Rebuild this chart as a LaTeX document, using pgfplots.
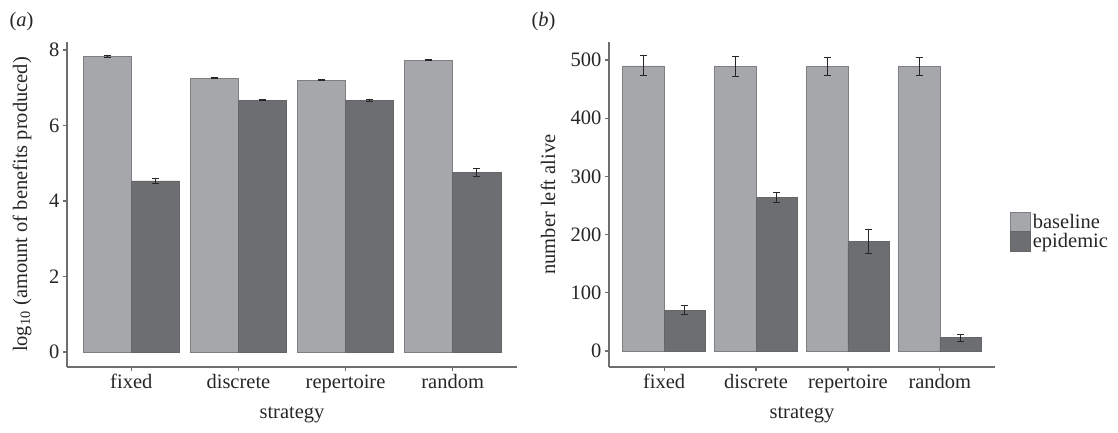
\documentclass[border=0pt]{standalone}
\usepackage{fontspec}
\setmainfont{Liberation Serif}
\usepackage{pgfplots}
\pgfplotsset{compat=1.18}
\definecolor{base}{HTML}{A6A7AB}
\definecolor{epi}{HTML}{6D6E71}
\definecolor{axgray}{HTML}{6E6E6E}
\definecolor{edge}{HTML}{7E7F82}
\definecolor{txt}{HTML}{262626}
\newcommand{\bigf}{\fontsize{20.5}{22}\selectfont}
\pgfplotsset{mystyle/.style={
  scale only axis, axis lines=left,
  axis line style={-, axgray, line width=1.5pt},
  tick align=outside, major tick length=4pt,
  tick style={axgray, line width=1.2pt},
  /pgf/number format/assume math mode=true,
  ybar, bar width=0.45,
  xtick={0,1,2,3}, xticklabels={fixed,discrete,repertoire,random},
  xmin=-0.6, xmax=3.6, height=325pt,
  tick label style={font=\bigf, text=txt},
  label style={font=\bigf, text=txt},
  xlabel=strategy,
  xlabel style={at={(axis description cs:0.5,-0.148)}, anchor=center},
  error bars/y dir=both, error bars/y explicit,
  error bars/error bar style={txt, line width=1pt},
  error bars/error mark options={rotate=90, mark size=3.5pt, line width=1pt, txt},
  legend image code/.code={\draw[#1] (0pt,-10pt) rectangle (20pt,10pt);},
}}
\begin{document}
\begin{tikzpicture}
\useasboundingbox (0,0) rectangle (1118pt,-432pt);
\begin{axis}[mystyle, at={(67pt,-367pt)}, anchor=south west, width=450pt,
  ymin=-0.4, ymax=8.21, ytick={0,2,4,6,8},
  ylabel={log\textsubscript{10} (amount of benefits produced)},
  ylabel style={at={(axis description cs:-0.1,0.5)}, anchor=center}]
\addplot[fill=base, draw=edge, line width=0.6pt, bar shift=-0.225] coordinates {
  (0,7.83) +- (0,0.02)
  (1,7.25) +- (0,0.02)
  (2,7.20) +- (0,0.02)
  (3,7.73) +- (0,0.02)
};
\addplot[fill=epi, draw=edge!80!black, line width=0.6pt, bar shift=0.225] coordinates {
  (0,4.53) +- (0,0.07)
  (1,6.67) +- (0,0.02)
  (2,6.66) +- (0,0.02)
  (3,4.76) +- (0,0.10)
};
\end{axis}
\begin{axis}[mystyle, at={(609pt,-367pt)}, anchor=south west, width=386pt,
  ymin=-27.5, ymax=531, ytick={0,100,200,300,400,500},
  ylabel={number left alive},
  ylabel style={at={(axis description cs:-0.158,0.5)}, anchor=center},
  legend style={at={(1.039,0.477)}, anchor=north west, draw=none, fill=none,
    inner sep=0pt, font=\bigf, text=txt, row sep=-2pt,
    cells={anchor=west}}]
\addplot[fill=base, draw=edge, line width=0.6pt, bar shift=-0.225] coordinates {
  (0,490) +- (0,17)
  (1,489) +- (0,17)
  (2,489) +- (0,16)
  (3,489) +- (0,16)
};
\addplot[fill=epi, draw=edge!80!black, line width=0.6pt, bar shift=0.225] coordinates {
  (0,70) +- (0,8)
  (1,264) +- (0,8)
  (2,188) +- (0,21)
  (3,23) +- (0,6)
};
\legend{baseline,epidemic}
\end{axis}
\node[font=\bigf, text=txt] at (21.5pt,-22pt) {(\textit{a})};
\node[font=\bigf, text=txt] at (543.5pt,-22pt) {(\textit{b})};
\end{tikzpicture}
\end{document}
